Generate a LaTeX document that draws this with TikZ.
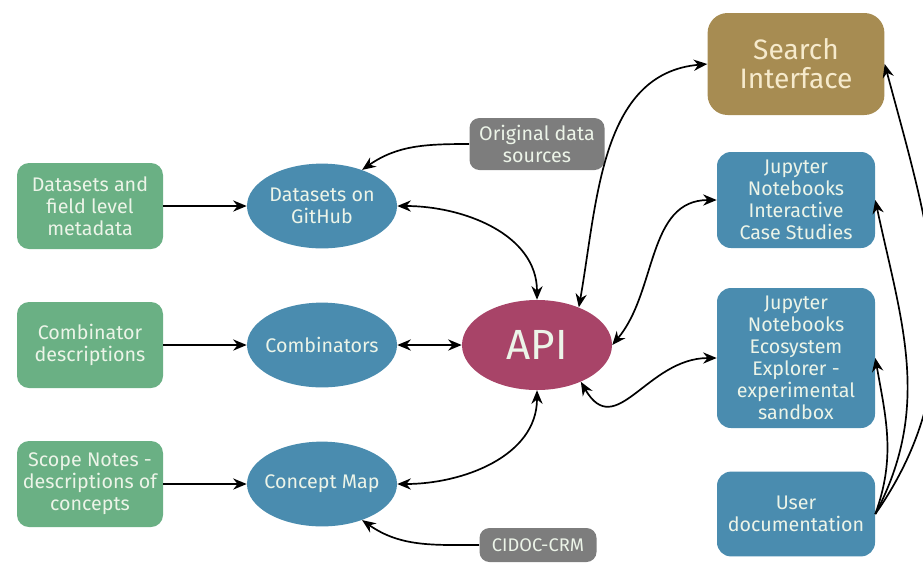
\documentclass[tikz,border=0pt]{standalone}
\usepackage{fontspec}
\setmainfont{Fira Sans}
\usetikzlibrary{positioning,shapes.geometric,arrows.meta}
\definecolor{srcgreen}{RGB}{106,176,132}
\definecolor{storeblue}{RGB}{74,140,175}
\definecolor{apired}{RGB}{168,68,104}
\definecolor{extgray}{RGB}{125,125,125}
\definecolor{searchgold}{RGB}{167,140,82}
\definecolor{lighttext}{RGB}{236,244,232}
\definecolor{goldtext}{RGB}{246,234,204}
\tikzstyle{source} = [rectangle, fill=srcgreen, text=lighttext, text centered, rounded corners=0.3cm, minimum width=3.65cm, minimum height=2.15cm, font=\fontsize{14}{15.6}\selectfont]
\tikzstyle{store} = [ellipse, fill=storeblue, text=lighttext, text centered, inner xsep=-10pt, inner ysep=0pt, minimum width=3.75cm, minimum height=2.12cm, font=\fontsize{14}{15.6}\selectfont]
\tikzstyle{extern} = [rectangle, fill=extgray, text=lighttext, text centered, rounded corners=0.25cm, font=\fontsize{14}{15.6}\selectfont]
\tikzstyle{api} = [ellipse, fill=apired, text=lighttext, inner sep=0pt, minimum width=3.75cm, minimum height=2.25cm, font=\fontsize{30}{32}\selectfont]
\tikzstyle{search} = [rectangle, fill=searchgold, text=goldtext, text centered, rounded corners=0.5cm, minimum width=4.42cm, minimum height=2.55cm, font=\fontsize{20}{20.5}\selectfont]
\tikzstyle{front} = [rectangle, fill=storeblue, text=lighttext, text centered, rounded corners=0.35cm, minimum width=3.95cm, font=\fontsize{14}{15.6}\selectfont]
\tikzstyle{arrow} = [line width=1.2pt,->,>={Stealth[length=3.4mm,width=2.8mm]}]
\tikzstyle{both} = [line width=1.2pt,<->,>={Stealth[length=3.4mm,width=2.8mm]}]

\begin{document}
\begin{tikzpicture}[node distance=2cm]
		\useasboundingbox (0,0) rectangle (23.075,-14.075);
		
		\node (dsrc) [source, align=center] at (2.25,-5.15) {Datasets and\\field level\\metadata};
		\node (csrc) [source, align=center, below of=dsrc, node distance=3.475cm] {Combinator\\descriptions};
		\node (ssrc) [source, align=center, below of=csrc, node distance=3.475cm] {Scope Notes -\\descriptions of\\concepts};
		
		\node (github) [store, align=center, right of=dsrc, node distance=5.8cm] {Datasets on\\GitHub};
		\node (comb) [store, right of=csrc, node distance=5.8cm] {Combinators};
		\node (cmap) [store, right of=ssrc, node distance=5.8cm] {Concept Map};
		
		\node (api) [api, right of=comb, node distance=5.375cm] {API};
		\node (orig) [extern, align=center, minimum width=3.375cm, minimum height=1.3cm] at (13.425,-3.6) {Original data\\sources};
		\node (cidoc) [extern, minimum width=2.925cm, minimum height=0.85cm, font=\fontsize{13}{15}\selectfont] at (13.45,-13.625) {CIDOC-CRM};
		
		\node (search) [search, align=center] at (19.9,-1.6) {Search\\Interface};
		\node (jint) [front, align=center, minimum height=2.4cm] at (19.9,-5.0) {Jupyter\\Notebooks\\Interactive\\Case Studies};
		\node (jeco) [front, align=center, minimum height=3.5cm] at (19.9,-8.95) {Jupyter\\Notebooks\\Ecosystem\\Explorer -\\experimental\\sandbox};
		\node (udoc) [front, align=center, minimum height=2.12cm] at (19.9,-12.85) {User\\documentation};
		
		\draw [arrow] (dsrc) -- (github);
		\draw [arrow] (csrc) -- (comb);
		\draw [arrow] (ssrc) -- (cmap);
		
		\draw [arrow] (orig.west) to[out=180,in=35] (github.42);
		\draw [arrow] (cidoc.west) to[out=180,in=-35] (cmap.-42);
		\draw [both] (github.east) to[out=0,in=90] (api.north);
		\draw [both] (comb) -- (api);
		\draw [both] (cmap.east) to[out=0,in=-90] (api.south);
		
		\draw [both] (api.42) to[out=80,in=185] (search.west);
		\draw [both] (api.east) to[out=50,in=180] (jint.west);
		\draw [both] (api.-40) to[out=-60,in=180,looseness=1.3] (jeco.west);
		
		\draw [arrow] (udoc.east) to[out=55,in=-75] (search.east);
		\draw [arrow] (udoc.east) to[out=62,in=-78] (jint.east);
		\draw [arrow] (udoc.east) to[out=70,in=-80] (jeco.east);
		
	\end{tikzpicture}
\end{document}
